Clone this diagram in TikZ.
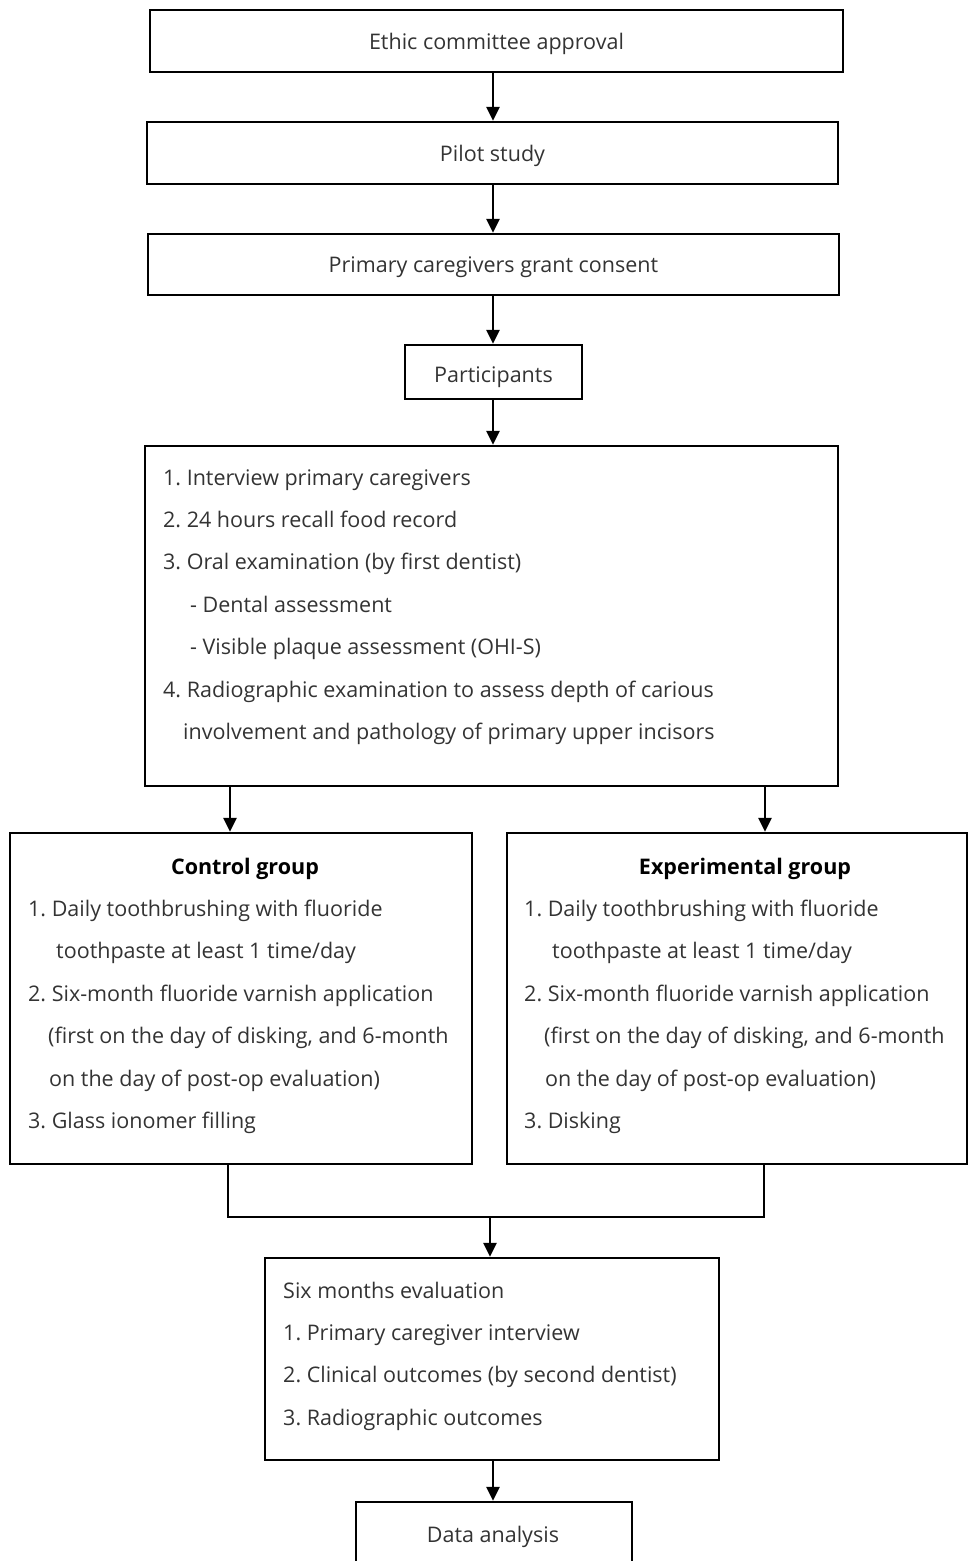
\documentclass[tikz,border=0pt]{standalone}
\usepackage{fontspec}
\setmainfont{Open Sans}
\usetikzlibrary{arrows.meta}
\definecolor{txt}{HTML}{333333}
\frenchspacing
\tikzset{
  boxnode/.style={draw=black, line width=2.5pt, rectangle, inner sep=0pt, text=txt, text height=19pt, text depth=3pt, font=\fontsize{21.5}{26}\selectfont},
  ln/.style={anchor=base west, inner sep=0pt, text=txt, font=\fontsize{21.5}{26}\selectfont},
  ttl/.style={anchor=base, inner sep=0pt, text=black, font=\fontsize{21.5}{26}\selectfont\bfseries},
  arr/.style={line width=2.8pt, -{Triangle[width=13pt,length=14pt]}},
  plain/.style={line width=2.8pt}
}
\begin{document}
\begin{tikzpicture}[x=1pt,y=-1pt]
\useasboundingbox (0,0) rectangle (968,1561);
\clip (0,0) rectangle (968,1561);
% boxes
\node[boxnode, minimum width=693pt, minimum height=62pt] (b1) at (496.5,41) {Ethic committee approval};
\node[boxnode, minimum width=691pt, minimum height=62pt] (b2) at (492.5,153) {Pilot study};
\node[boxnode, minimum width=691pt, minimum height=61pt] (b3) at (493.5,264.5) {Primary caregivers grant consent};
\node[boxnode, text height=24pt, minimum width=177pt, minimum height=54pt] (b4) at (493.5,372) {Participants};
\node[boxnode, minimum width=693pt, minimum height=340pt] (b5) at (491.5,616) {};
\node[boxnode, minimum width=462pt, minimum height=331pt] (ctrl) at (241,998.5) {};
\node[boxnode, minimum width=460pt, minimum height=331pt] (exp) at (737,998.5) {};
\node[boxnode, minimum width=454pt, minimum height=202pt] (b6) at (492,1359) {};
\node[boxnode, minimum width=276pt, minimum height=73pt] (b7) at (494,1538.5) {};
% texts of b5
\node[ln] (t51) at (163,485) {1. Interview primary caregivers};
\node[ln] (t52) at (163,527) {2. 24 hours recall food record};
\node[ln] (t53) at (163,569) {3. Oral examination (by first dentist)};
\node[ln] (t54) at (190,612) {- Dental assessment};
\node[ln] (t55) at (190,654) {- Visible plaque assessment (OHI-S)};
\node[ln] (t56) at (163,697) {4. Radiographic examination to assess depth of carious};
\node[ln] (t57) at (183,739) {involvement and pathology of primary upper incisors};
% control group
\node[ttl] (ct) at (245,874) {Control group};
\node[ln] (c1) at (28,916) {1. Daily toothbrushing with fluoride};
\node[ln] (c2) at (56,958) {toothpaste at least 1 time/day};
\node[ln] (c3) at (28,1001) {2. Six-month fluoride varnish application};
\node[ln] (c4) at (48,1043) {(first on the day of disking, and 6-month};
\node[ln] (c5) at (49,1086) {on the day of post-op evaluation)};
\node[ln] (c6) at (28,1128) {3. Glass ionomer filling};
% experimental group
\node[ttl] (et) at (745,874) {Experimental group};
\node[ln] (e1) at (524,916) {1. Daily toothbrushing with fluoride};
\node[ln] (e2) at (552,958) {toothpaste at least 1 time/day};
\node[ln] (e3) at (524,1001) {2. Six-month fluoride varnish application};
\node[ln] (e4) at (544,1043) {(first on the day of disking, and 6-month};
\node[ln] (e5) at (545,1086) {on the day of post-op evaluation)};
\node[ln] (e6) at (524,1128) {3. Disking};
% six months evaluation
\node[ln] (s0) at (283,1298) {Six months evaluation};
\node[ln] (s1) at (283,1340) {1. Primary caregiver interview};
\node[ln] (s2) at (283,1382) {2. Clinical outcomes (by second dentist)};
\node[ln] (s3) at (283,1425) {3. Radiographic outcomes};
% data analysis
\node[anchor=base, inner sep=0pt, text=txt, font=\fontsize{21.5}{26}\selectfont] (da) at (493,1542) {Data analysis};
% connectors
\coordinate (ax) at (493,0);
\coordinate (cx) at (230,0);
\coordinate (ex) at (765,0);
\coordinate (lx) at (228,1217);
\coordinate (rx) at (764,1217);
\coordinate (mj) at (490,1217);
\draw[arr] (b1.south -| ax) -- (b2.north -| ax);
\draw[arr] (b2.south -| ax) -- (b3.north -| ax);
\draw[arr] (b3.south -| ax) -- (b4.north -| ax);
\draw[arr] (b4.south -| ax) -- (b5.north -| ax);
\draw[arr] (b5.south -| cx) -- (ctrl.north -| cx);
\draw[arr] (b5.south -| ex) -- (exp.north -| ex);
\draw[plain] (ctrl.south -| lx) -- (lx) -- (rx) -- (exp.south -| rx);
\draw[arr] (mj) -- (b6.north -| mj);
\draw[arr] (b6.south -| ax) -- (b7.north -| ax);
\end{tikzpicture}
\end{document}
